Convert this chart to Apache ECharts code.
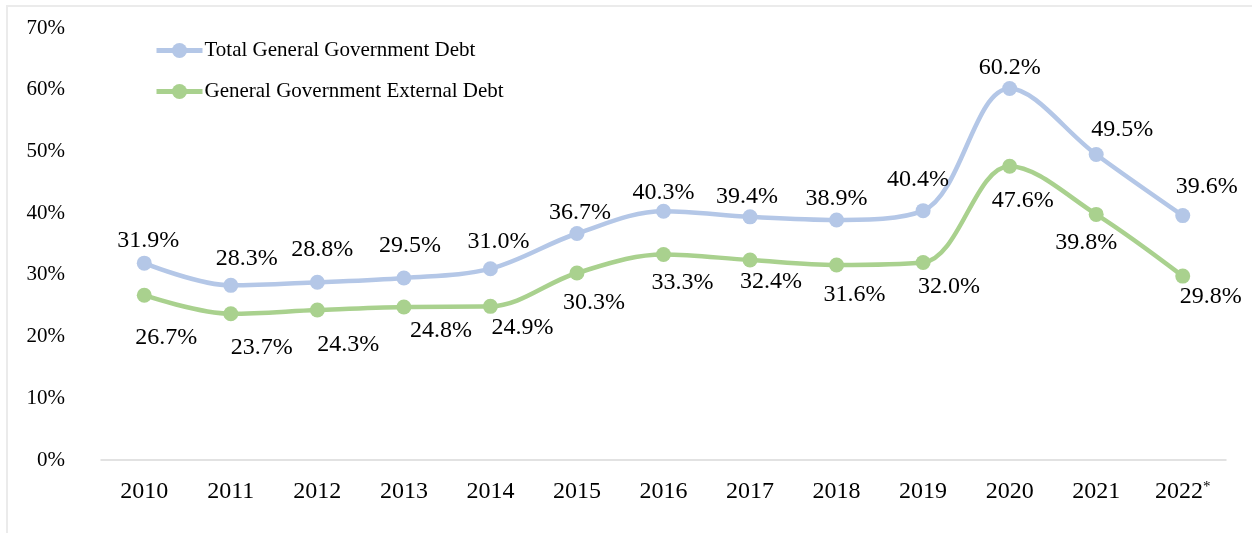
<!DOCTYPE html>
<html>
<head>
<meta charset="utf-8">
<script src="https://cdn.jsdelivr.net/npm/echarts@6/dist/echarts.min.js"></script>
<style>
  html, body { margin: 0; padding: 0; background: #fff; }
  #frame { position: absolute; left: 6px; top: 5px; width: 1260px; height: 540px; border-left: 2px solid #ebebeb; border-top: 2px solid #ebebeb; }
  #chart { position: absolute; left: 0; top: 0; width: 1252px; height: 533px; }
</style>
</head>
<body>
<div id="frame"></div>
<div id="chart"></div>
<script>
const years = ['2010','2011','2012','2013','2014','2015','2016','2017','2018','2019','2020','2021','2022*'];
const totalDebt = [31.9, 28.3, 28.8, 29.5, 31.0, 36.7, 40.3, 39.4, 38.9, 40.4, 60.2, 49.5, 39.6];
const externalDebt = [26.7, 23.7, 24.3, 24.8, 24.9, 30.3, 33.3, 32.4, 31.6, 32.0, 47.6, 39.8, 29.8];
const yTicks = [0, 10, 20, 30, 40, 50, 60, 70];

// label placement (pixel offsets from each marker centre)
const totalLabelOffsets = [[4,-22],[16,-27],[5,-33],[6,-32],[8,-27],[3,-21],[0,-19],[-3,-20],[0,-21],[-5,-31],[0,-21],[26,-25],[24,-29]];
const externalLabelOffsets = [[22,42],[31,34],[31,35],[37,24],[32,21],[17,30],[19,28],[21,22],[18,30],[26,24],[13,34],[-10,28],[28,21]];

const FONT = '"Liberation Serif", "Times New Roman", serif';

function withLabels(values, offsets) {
  return values.map((v, i) => ({
    value: v,
    label: { offset: offsets[i] }
  }));
}

const chart = echarts.init(document.getElementById('chart'), null, { renderer: 'canvas' });
chart.setOption({
  animation: false,
  backgroundColor: 'transparent',
  grid: { left: 101, right: 26, top: 28, bottom: 73, containLabel: false },
  legend: {
    orient: 'vertical',
    left: 154,
    top: 40,
    padding: 0,
    itemWidth: 46,
    itemHeight: 19,
    itemGap: 20,
    lineStyle: { width: 5 },
    textStyle: { fontFamily: FONT, fontSize: 21, color: '#000', padding: [0,0,0,-3] },
    data: ['Total General Government Debt', 'General Government External Debt']
  },
  xAxis: {
    type: 'category',
    data: years,
    boundaryGap: true,
    axisLine: { show: true, lineStyle: { color: '#d9d9d9', width: 1.5 } },
    axisTick: { show: false },
    axisLabel: {
      interval: 0,
      fontFamily: FONT, fontSize: 24, color: '#000', margin: 20,
      formatter: v => v.endsWith('*') ? v.slice(0, -1) + '{s|*}' : v,
      rich: { s: { fontFamily: FONT, fontSize: 15, color: '#000', verticalAlign: 'top', padding: [0, 0, 8, 0] } }
    },
    splitLine: { show: false }
  },
  yAxis: {
    type: 'value',
    min: yTicks[0],
    max: yTicks[yTicks.length - 1],
    interval: yTicks[1] - yTicks[0],
    axisLine: { show: false },
    axisTick: { show: false },
    splitLine: { show: false },
    axisLabel: { fontFamily: FONT, fontSize: 21, color: '#000', margin: 36, formatter: v => v + '%' }
  },
  series: [
    {
      name: 'Total General Government Debt',
      type: 'line',
      smooth: 0.35,
      data: withLabels(totalDebt, totalLabelOffsets),
      color: '#b4c7e7',
      lineStyle: { width: 4.5, color: '#b4c7e7' },
      symbol: 'circle',
      symbolSize: 15,
      itemStyle: { color: '#b4c7e7' },
      label: {
        show: true,
        position: 'inside',
        fontFamily: FONT,
        fontSize: 24,
        color: '#000',
        formatter: p => p.value.toFixed(1) + '%'
      }
    },
    {
      name: 'General Government External Debt',
      type: 'line',
      smooth: 0.35,
      data: withLabels(externalDebt, externalLabelOffsets),
      color: '#a9d18e',
      lineStyle: { width: 4.5, color: '#a9d18e' },
      symbol: 'circle',
      symbolSize: 15,
      itemStyle: { color: '#a9d18e' },
      label: {
        show: true,
        position: 'inside',
        fontFamily: FONT,
        fontSize: 24,
        color: '#000',
        formatter: p => p.value.toFixed(1) + '%'
      }
    }
  ]
});
</script>
</body>
</html>
